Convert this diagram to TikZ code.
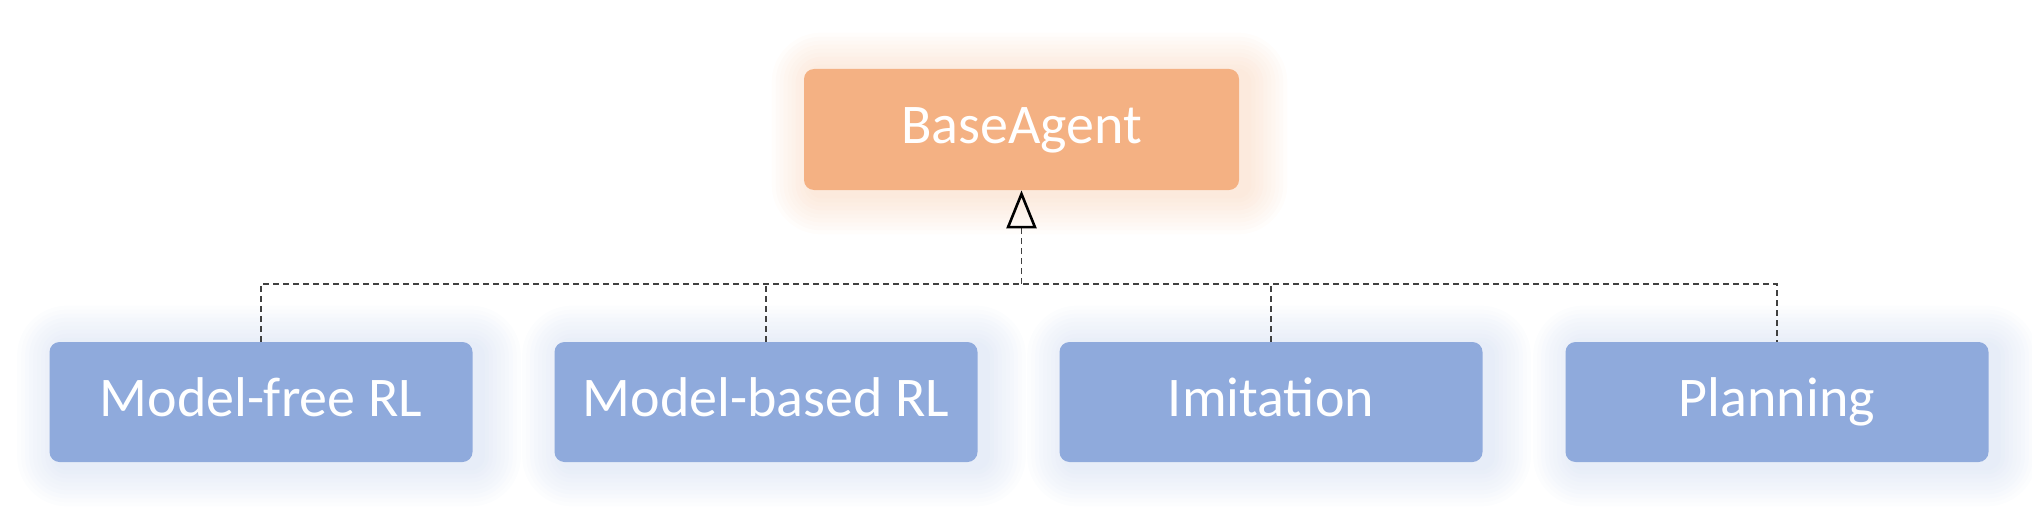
\documentclass[tikz,border=0pt]{standalone}
\usepackage{fontspec}
\setmainfont{Carlito}
\usetikzlibrary{arrows.meta, calc, backgrounds}
\definecolor{baseorange}{HTML}{F4B183}
\definecolor{childblue}{HTML}{8FAADC}
\tikzset{
  agentbox/.style={rounded corners=5pt, text=white, inner sep=0pt,
    text height=19pt, text depth=5pt, font=\fontsize{28}{34}\selectfont},
  basebox/.style={agentbox, fill=baseorange, minimum width=217.5pt, minimum height=60.5pt},
  childbox/.style={agentbox, fill=childblue, minimum width=211.5pt, minimum height=60pt},
  dashlink/.style={dashed, dash pattern=on 3pt off 2pt, line width=0.6pt, black!75},
}
\begin{document}
\begin{tikzpicture}[x=0.5pt, y=0.5pt]
        \useasboundingbox (0, 0) rectangle (2032, 515);
        % node
        \node[basebox] (base) at (1021.5, 385.5) {BaseAgent};
        \node[childbox] (mf) at (261, 113) {Model-free RL};
        \node[childbox] (mb) at (766, 113) {Model-based RL};
        \node[childbox] (im) at (1271, 113) {Imitation};
        \node[childbox] (pl) at (1777, 113) {Planning};
        \coordinate (j) at (1021.5, 231);
        % glow
        \begin{scope}[on background layer]
          \foreach \r [evaluate=\r as \rc using \r*0.5+5] in {4, 8, ..., 40} {
            \fill[baseorange, opacity=0.03, rounded corners=\rc pt]
              ($(base.south west)+(-\r+8, -\r-4)$) rectangle ($(base.north east)+(\r+8, \r-4)$);
            \foreach \n in {mf, mb, im, pl}
              \fill[childblue, opacity=0.022, rounded corners=\rc pt]
                ($(\n.south west)+(-\r+8, -\r-4)$) rectangle ($(\n.north east)+(\r+8, \r-4)$);
          }
        \end{scope}
        % lines
        \draw[dashlink] (mf.north) -- (mf.north |- j) -- (pl.north |- j) -- (pl.north);
        \draw[dashlink] (mb.north) -- (mb.north |- j);
        \draw[dashlink] (im.north) -- (im.north |- j);
        \draw[dashlink, -{Triangle[open, length=19pt, width=15pt, line width=1.3pt, black]}] (j) -- (base.south);
      \end{tikzpicture}
\end{document}
